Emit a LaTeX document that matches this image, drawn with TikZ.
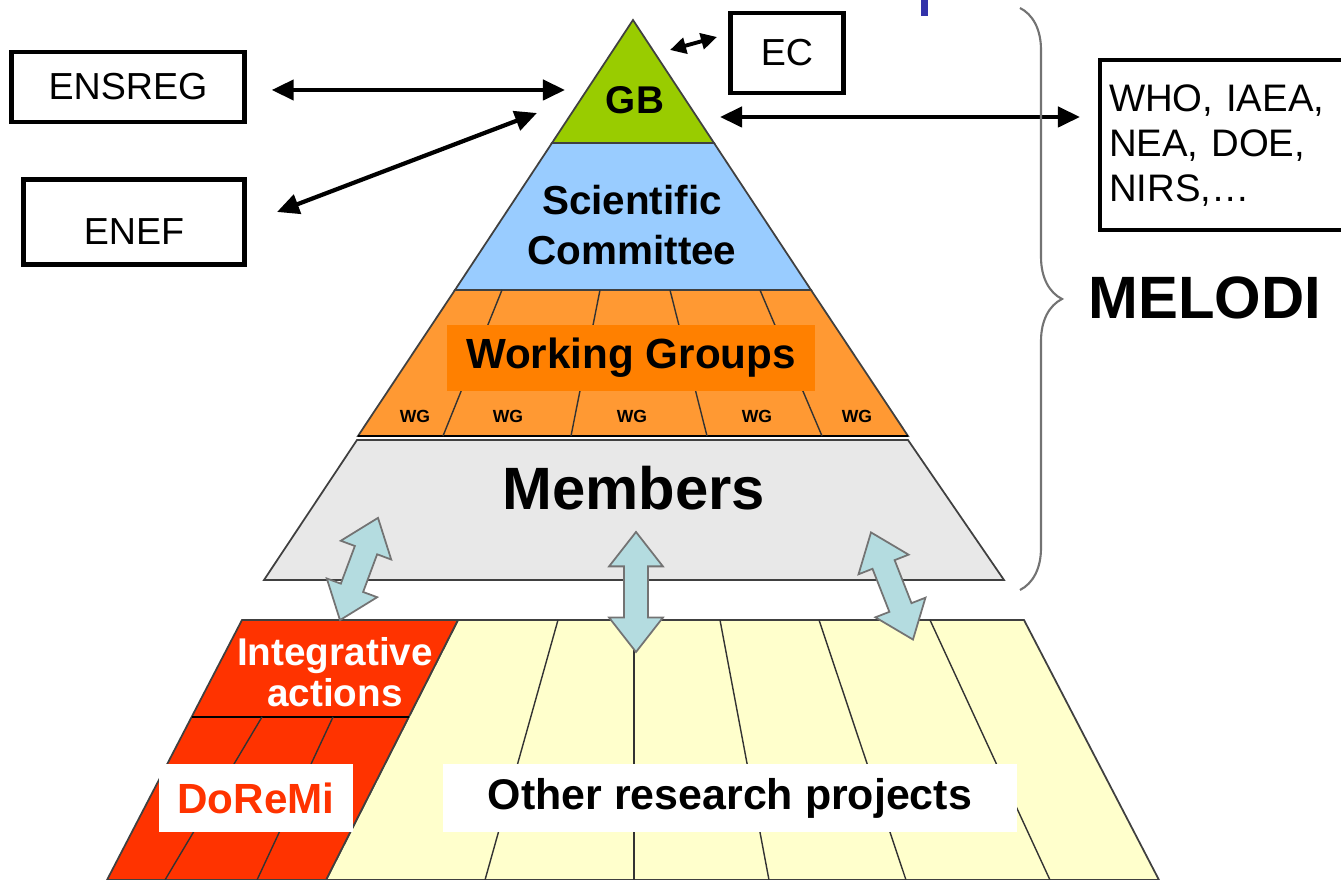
\documentclass[tikz,border=0pt]{standalone}
\usepackage{fontspec}
\setmainfont{Liberation Sans}
\usetikzlibrary{arrows.meta,shapes.arrows,decorations.pathreplacing,positioning}
\definecolor{gbgreen}{HTML}{99CC00}
\definecolor{scblue}{HTML}{99CCFF}
\definecolor{wgorange}{HTML}{FF9933}
\definecolor{wgdark}{HTML}{FF8000}
\definecolor{memgray}{HTML}{E8E8E8}
\definecolor{iared}{HTML}{FF3300}
\definecolor{projyellow}{HTML}{FFFFCC}
\definecolor{linkblue}{HTML}{B4DCE0}
\definecolor{markblue}{HTML}{3333AA}
\begin{document}
\begin{tikzpicture}[
        x                   = 0.01cm,
        y                   = -0.01cm,
        layer/.style        = {draw=black!75, line width=0.5pt},
        divider/.style      = {draw=black!80, line width=0.4pt},
        orgbox/.style       = {draw, line width=1.2pt, inner sep=0pt, font=\fontsize{10.7}{12.8}\selectfont},
        link/.style         = {line width=1.2pt, {Triangle[length=2.2mm,width=2mm]}-{Triangle[length=2.2mm,width=2mm]}},
        smalllink/.style    = {line width=1.1pt, {Triangle[length=1.6mm,width=1.6mm]}-{Triangle[length=1.6mm,width=1.6mm]}},
        layertext/.style    = {font=\bfseries\fontsize{12}{14.2}\selectfont, align=center},
        wglabel/.style      = {font=\bfseries\fontsize{5}{6}\selectfont},
        twoway/.style       = {double arrow, draw=black!55, fill=linkblue, line width=0.5pt,
                               inner xsep=0pt, inner ysep=0.11cm, text height=0pt, text depth=0pt,
                               double arrow head extend=0.15cm, double arrow tip angle=76},
        melodibrace/.style  = {draw=black!55, line width=0.6pt, decorate, decoration={brace, amplitude=0.42cm}},
        %labelbox
      ]
    \useasboundingbox (0,0) rectangle (1341,880);
    \clip (0,0) rectangle (1341,880);

    \fill[markblue] (921,0) rectangle (928,16);

    % pyramid
    \draw[layer, fill=gbgreen] (633,20) -- (714,143) -- (552,143) -- cycle;
    \draw[layer, fill=scblue] (552,143) -- (714,143) -- (811,290) -- (455,290) -- cycle;
    \draw[layer, fill=wgorange] (455,290) -- (811,290) -- (908,436) -- (358,436) -- cycle;
    \draw[black, line width=0.8pt] (358,436) -- (908,436);
    \foreach \a/\b in {502/443, 600/571, 670/707, 760/822}
        \draw[divider] (\a,290) -- (\b,436);
    \draw[layer, fill=memgray] (357,440) -- (908,440) -- (1004,580) -- (264,580) -- cycle;

    \node[layertext, font=\bfseries\fontsize{11}{13}\selectfont] (gb) at (635,100) {GB};
    \node[layertext, font=\bfseries\fontsize{11.5}{14.2}\selectfont] (sc) at (632,225) {Scientific\\Committee};
    \node[layertext, fill=wgdark, minimum width=3.68cm, minimum height=0.66cm, inner sep=0pt] (wg) at (631,358) {Working Groups};
    \foreach \x/\n in {415/1, 508/2, 632/3, 757/4, 857/5}
        \node[wglabel] (wg\n) at (\x,416) {WG};
    \node[font=\bfseries\fontsize{17}{20}\selectfont] (members) at (634,488) {Members};

    % projects
    \draw[layer, fill=projyellow] (458,620) -- (1024,620) -- (1159,880) -- (326,880) -- cycle;
    \foreach \a/\b in {558/485, 634/634, 720/769, 819/906, 930/1050}
        \draw[divider] (\a,620) -- (\b,880);
    \draw[layer, fill=iared] (242,620) -- (458,620) -- (326,880) -- (107,880) -- cycle;
    \draw[black, line width=0.8pt] (192,717) -- (409,717);
    \foreach \a/\b in {262/165, 333/257}
        \draw[divider] (\a,717) -- (\b,880);

    \node[font=\bfseries\fontsize{11}{11.7}\selectfont, text=white, align=center] (ia) at (335,672) {Integrative\\actions};
    \node[fill=white, minimum width=1.93cm, minimum height=0.67cm, text=iared,
          font=\bfseries\fontsize{12}{14}\selectfont] (doremi) at (256,798) {DoReMi};
    \node[fill=white, minimum width=5.74cm, minimum height=0.67cm,
          font=\bfseries\fontsize{12.2}{14}\selectfont] (other) at (730,798) {Other research projects};

    \node[twoway, minimum height=1.09cm, rotate=69.6] (link1) at (359,569) {};
    \node[twoway, minimum height=1.2cm, rotate=90] (link2) at (636,592) {};
    \node[twoway, minimum height=1.15cm, rotate=111.4] (link3) at (892,586) {};

    % partners
    \node[orgbox, minimum width=2.33cm, minimum height=0.70cm] (ensreg) at (128,87) {ENSREG};
    \node[orgbox, minimum width=2.21cm, minimum height=0.85cm, text height=0.46cm] (enef) at (134,222) {ENEF};
    \node[orgbox, minimum width=1.13cm, minimum height=0.80cm] (ec) at (787,53) {EC};
    \node[orgbox, anchor=north west, inner xsep=0.09cm, text width=2.4cm, minimum height=1.70cm,
          align=left, font=\fontsize{10.9}{12.8}\selectfont] (who) at (1098,58) {WHO, IAEA,\\NEA, DOE,\\NIRS,\ldots};

    \coordinate (gbW) at (565,90);
    \coordinate (gbSW) at (537,113);
    \coordinate (enefE) at (277,212);
    \coordinate (gbNE) at (670,50);
    \coordinate (ecW) at (717,37);
    \coordinate (gbE) at (720,117);

    \draw[link, shorten <=0.25cm] (ensreg.east |- gbW) -- (gbW);
    \draw[link] (enefE) -- (gbSW);
    \draw[smalllink] (gbNE) -- (ecW);
    \draw[link, shorten >=0.18cm] (gbE) -- (who.west |- gbE);

    \draw[melodibrace] (1020,8) -- (1020,590);
    \node[font=\bfseries\fontsize{17}{20}\selectfont] (melodi) at (1205,298) {MELODI};
\end{tikzpicture}
\end{document}
